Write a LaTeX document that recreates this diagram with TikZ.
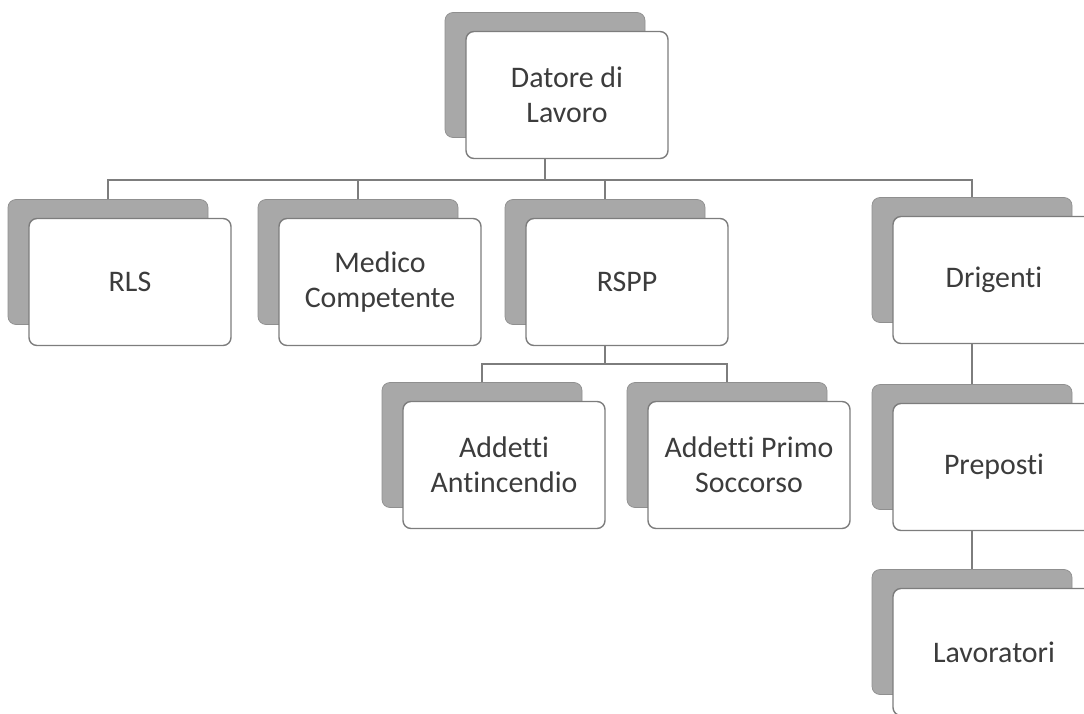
\documentclass[tikz,border=0pt]{standalone}
\usepackage{fontspec}
\setmainfont{Carlito}[Ligatures=NoCommon]
\usetikzlibrary{positioning,calc}
\definecolor{shade}{RGB}{168,168,168}
\definecolor{edge}{RGB}{125,125,125}
\definecolor{txt}{RGB}{60,60,60}

\begin{document}
\begin{tikzpicture}[
    back/.style={rectangle, rounded corners=0.16cm, draw=shade!85!black, fill=shade,
                 minimum width=4cm, minimum height=2.5cm, inner sep=0pt},
    box/.style={rectangle, rounded corners=0.16cm, draw=edge, fill=white, line width=0.8pt,
                minimum width=4.04cm, minimum height=2.54cm, align=center, text=txt,
                font=\fontsize{17}{20}\selectfont},
    conn/.style={draw=edge, line width=0.9pt}
  ]
    \useasboundingbox (0,0) rectangle (21.68,-14.26);
    \clip (0,0) rectangle (21.68,-14.26);

    % top level
    \node[back] (datore-b) at (10.9, -1.5) {};
    \node[box] (datore) at ([shift={(0.44,-0.4)}]datore-b) {Datore di\\Lavoro};

    % second row
    \node[back] (rls-b) at (2.16, -5.24) {};
    \node[box] (rls) at ([shift={(0.44,-0.4)}]rls-b) {RLS};
    \node[back] (medico-b) at (7.16, -5.24) {};
    \node[box] (medico) at ([shift={(0.44,-0.4)}]medico-b) {Medico\\Competente};
    \node[back] (rspp-b) at (12.1, -5.24) {};
    \node[box] (rspp) at ([shift={(0.44,-0.4)}]rspp-b) {RSPP};
    \node[back] (drig-b) at (19.44, -5.2) {};
    \node[box] (drig) at ([shift={(0.44,-0.4)}]drig-b) {Drigenti};

    % under RSPP
    \node[back] (addA-b) at (9.64, -8.9) {};
    \node[box] (addA) at ([shift={(0.44,-0.4)}]addA-b) {Addetti\\Antincendio};
    \node[back] (addP-b) at (14.54, -8.9) {};
    \node[box] (addP) at ([shift={(0.44,-0.4)}]addP-b) {Addetti Primo\\Soccorso};

    % under Drigenti
    \node[back] (prep-b) at (19.44, -8.94) {};
    \node[box] (prep) at ([shift={(0.44,-0.4)}]prep-b) {Preposti};
    \node[back] (lav-b) at (19.44, -12.64) {};
    \node[box] (lav) at ([shift={(0.44,-0.4)}]lav-b) {Lavoratori};

    % connectors
    \coordinate (bus) at (10.9, -3.6);
    \draw[conn] (datore-b.south |- datore.south) -- (bus);
    \draw[conn] (rls-b.north) |- (bus) -| (drig-b.north);
    \draw[conn] (medico-b.north) -- (medico-b.north |- bus);
    \draw[conn] (rspp-b.north) -- (rspp-b.north |- bus);

    \coordinate (sub) at (12.1, -7.28);
    \draw[conn] (rspp-b.south |- rspp.south) -- (sub);
    \draw[conn] (addA-b.north) |- (sub) -| (addP-b.north);

    \draw[conn] (drig-b.south |- drig.south) -- (prep-b.north);
    \draw[conn] (prep-b.south |- prep.south) -- (lav-b.north);
\end{tikzpicture}
\end{document}
